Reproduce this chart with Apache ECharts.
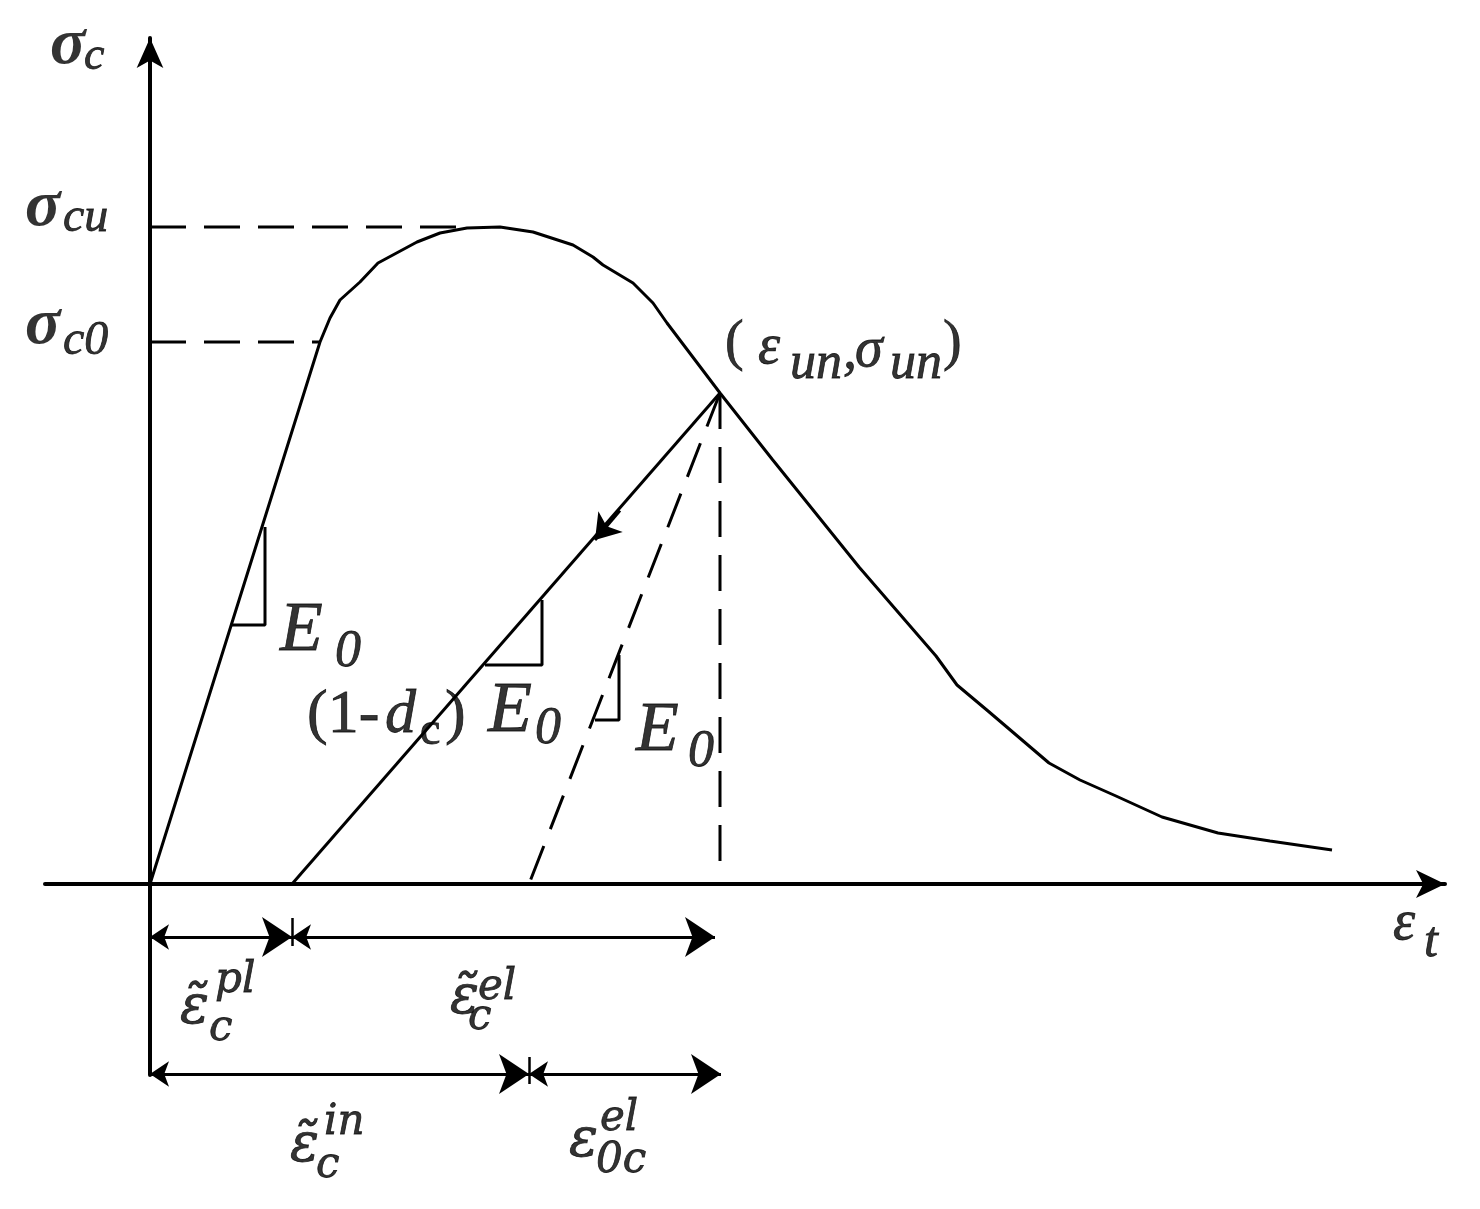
<!DOCTYPE html>
<html><head><meta charset="utf-8">
<script src="https://cdn.jsdelivr.net/npm/echarts@6/dist/echarts.min.js"></script>
<style>html,body{margin:0;padding:0;background:#fff}#c{width:1480px;height:1209px}</style>
</head><body><div id="c"></div>
<script>
// ---------- data (strain ε on x, stress σ on y, arbitrary units) ----------
const envelope = [[0,0],[1.70,5.42],[1.80,5.66],[1.90,5.84],[2.10,6.02],[2.28,6.21],[2.67,6.42],[2.90,6.51],[3.17,6.56],[3.50,6.57],[3.83,6.52],[4.23,6.39],[4.43,6.27],[4.53,6.19],[4.83,6.01],[5.03,5.81],[5.17,5.61],[5.70,4.91],[6.22,4.25],[7.09,3.17],[7.86,2.28],[8.07,1.99],[8.38,1.73],[8.99,1.21],[9.30,1.04],[9.66,0.88],[10.12,0.67],[10.68,0.51],[11.20,0.43],[11.82,0.34]];
const sigmaCu = 6.57, sigmaC0 = 5.42;
const epsC0 = 1.70, epsCuDashEnd = 3.12;
const unloadPoint = [5.70, 4.91];
const epsPl = 1.42;          // foot of the damaged unloading line
const epsIn = 3.79;          // foot of the E0 line
const vDashEnd = 0.16;
const arrowPoint = [4.45, 3.44];
const tri1 = [[0.82,2.59],[1.15,2.59],[1.15,3.57]];
const tri2 = [[3.35,2.19],[3.92,2.19],[3.92,2.84]];
const tri3 = [[4.45,1.64],[4.69,1.64],[4.69,2.29]];
const dimRow1 = -0.53, dimRow2 = -1.90;
const dimSpans1 = [[0,1.42],[1.42,5.65]];
const dimSpans2 = [[0,3.79],[3.79,5.71]];
const dimTicks = [[1.42,-0.34,-0.62],[3.79,-1.73,-2.00]];

// ---------- styling / layout ----------
const SERIF = 'Liberation Serif';
const MATH = 'DejaVu Serif';
function T(text, x, yb, size, o) {
  o = o || {};
  return { value: [x, yb], label: { show: true, formatter: text, position: 'inside', align: 'left', verticalAlign: 'middle',
    offset: [0, -0.34 * size], fontSize: size, fontFamily: o.f || SERIF, fontStyle: o.s || 'italic',
    fontWeight: o.w || 'normal', color: '#000', lineHeight: size,
    textBorderColor: '#000', textBorderWidth: o.b != null ? o.b : 0.8 } };
}
const texts = [
  T('σ', -1.00, 8.16, 66, {w:'bold', b:0}), T('c', -0.66, 8.11, 46),
  T('σ', -1.25, 6.54, 66, {w:'bold', b:0}), T('cu', -0.87, 6.49, 48),
  T('σ', -1.25, 5.36, 66, {w:'bold', b:0}), T('c0', -0.87, 5.26, 48),
  T('(', 5.75, 5.21, 56, {s:'normal'}), T('ε', 6.08, 5.17, 56), T('un', 6.40, 5.02, 52), T(',', 6.93, 5.12, 56),
  T('σ', 7.05, 5.14, 56), T('un', 7.40, 5.02, 52), T(')', 7.93, 5.21, 56, {s:'normal'}),
  T('E', 1.30, 2.29, 70), T('0', 1.85, 2.14, 52),
  T('(1-', 1.57, 1.47, 62, {s:'normal'}), T('d', 2.35, 1.47, 62), T('c', 2.70, 1.36, 46, {s:'normal'}),
  T(')', 2.95, 1.47, 62, {s:'normal'}), T('E', 3.38, 1.47, 72), T('0', 3.85, 1.37, 52),
  T('E', 4.86, 1.29, 70), T('0', 5.38, 1.14, 52),
  T('ε', 12.43, -0.59, 56), T('t', 12.74, -0.76, 50),
  T('ε\u0303', 0.30, -1.43, 54, {f:MATH}), T('c', 0.59, -1.59, 42, {f:MATH}), T('pl', 0.65, -1.11, 42, {f:MATH}),
  T('ε\u0303', 3.00, -1.33, 54, {f:MATH}), T('c', 3.18, -1.48, 42, {f:MATH}), T('el', 3.28, -1.18, 42, {f:MATH}),
  T('ε\u0303', 1.40, -2.81, 54, {f:MATH}), T('c', 1.66, -2.96, 42, {f:MATH}), T('in', 1.74, -2.53, 42, {f:MATH}),
  T('ε', 4.19, -2.76, 54, {f:MATH}), T('0c', 4.46, -2.91, 42, {f:MATH}), T('el', 4.50, -2.49, 42, {f:MATH})
];

const BLACK = '#000';
function line(data, width, dash) {
  return { type: 'line', data: data, symbol: 'none', clip: false, silent: true, animation: false,
    lineStyle: { color: BLACK, width: width, type: dash || 'solid' } };
}
function dimData(spans, row) {
  return spans.map(s => ({ coords: [[s[0], row], [s[1], row]] }));
}
// short segment ending at the arrow tip, lying on the unloading line
const arrowStart = [arrowPoint[0] + (unloadPoint[0] - arrowPoint[0]) * 0.2,
                    arrowPoint[1] + (unloadPoint[1] - arrowPoint[1]) * 0.2];

const option = {
  backgroundColor: '#fff',
  animation: false,
  grid: { left: 45, right: 35, top: 38, bottom: 134, containLabel: false, outerBoundsMode: 'none' },
  xAxis: { type: 'value', min: -1.05, max: 12.95,
    axisLine: { show: true, onZero: true, symbol: ['none', 'arrow'], symbolSize: [21, 29], lineStyle: { color: BLACK, width: 4 } },
    axisTick: { show: false }, axisLabel: { show: false }, splitLine: { show: false } },
  yAxis: { type: 'value', min: -1.91, max: 8.46,
    axisLine: { show: true, onZero: true, symbol: ['none', 'arrow'], symbolSize: [20, 30], lineStyle: { color: BLACK, width: 4 } },
    axisTick: { show: false }, axisLabel: { show: false }, splitLine: { show: false } },
  series: [
    line([[0, sigmaCu], [epsCuDashEnd, sigmaCu]], 3, [36, 18]),
    line([[0, sigmaC0], [epsC0, sigmaC0]], 3, [36, 18]),
    line(envelope, 3),
    line([unloadPoint, [epsPl, 0]], 3),
    line([unloadPoint, [epsIn, 0]], 3, [36, 18]),
    line([unloadPoint, [unloadPoint[0], vDashEnd]], 3, [36, 18]),
    line(tri1, 3), line(tri2, 3), line(tri3, 3),
    { type: 'lines', coordinateSystem: 'cartesian2d', clip: false, silent: true, animation: false,
      symbol: ['none', 'arrow'], symbolSize: [22, 24],
      lineStyle: { color: BLACK, width: 3, opacity: 1, curveness: 0 },
      data: [{ coords: [arrowStart, arrowPoint] }] },
    { type: 'lines', coordinateSystem: 'cartesian2d', clip: false, silent: true, animation: false,
      symbol: ['arrow', 'arrow'], symbolSize: [19, 30],
      lineStyle: { color: BLACK, width: 3, opacity: 1, curveness: 0 },
      data: dimData(dimSpans1, dimRow1).concat(dimData(dimSpans2, dimRow2)) },
    { type: 'lines', coordinateSystem: 'cartesian2d', clip: false, silent: true, animation: false,
      symbol: ['none', 'none'],
      lineStyle: { color: BLACK, width: 2.5, opacity: 1, curveness: 0 },
      data: dimTicks.map(t => ({ coords: [[t[0], t[1]], [t[0], t[2]]] })) },
    { type: 'scatter', clip: false, silent: true, animation: false, symbolSize: 1,
      itemStyle: { color: 'rgba(0,0,0,0)' }, data: texts, z: 10 }
  ]
};
const chart = echarts.init(document.getElementById('c'), null, { renderer: 'canvas' });
chart.setOption(option);
</script></body></html>
